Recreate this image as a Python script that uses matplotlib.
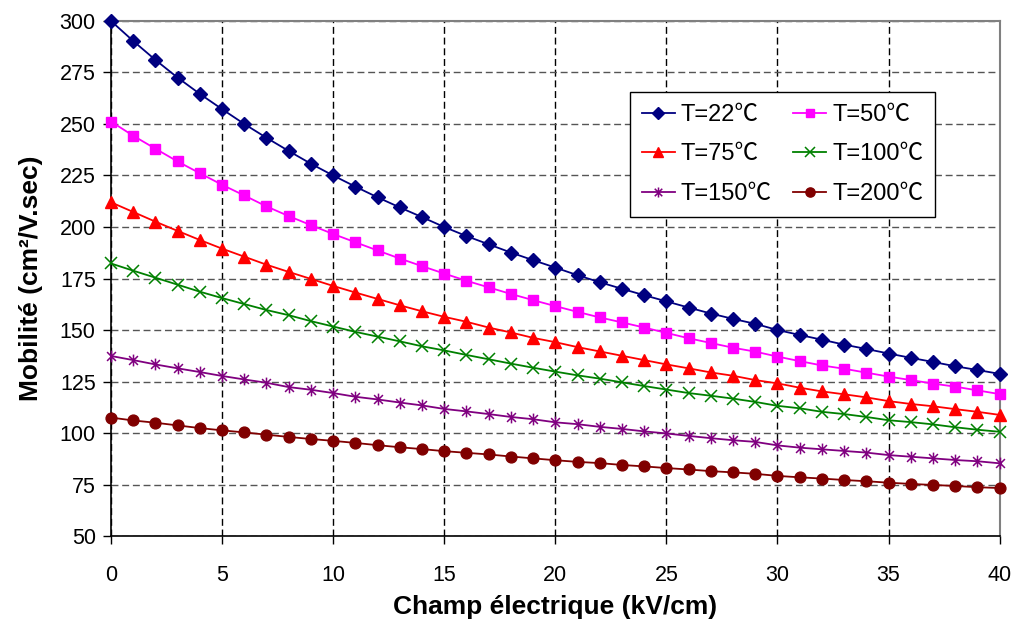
import numpy as np
import matplotlib
matplotlib.use("Agg")
import matplotlib.pyplot as plt
from matplotlib.path import Path

plt.rcParams['font.family'] = ['Liberation Sans', 'DejaVu Sans']

field = list(range(0, 41))

t22 = [300.0, 290.3, 281.1, 272.5, 264.6, 257.2, 250.0, 243.3, 236.9, 230.7,
       225.0, 219.6, 214.4, 209.5, 204.8, 200.0, 195.6, 191.6, 187.6, 183.9,
       180.3, 176.6, 173.2, 170.0, 166.9, 163.9, 160.9, 158.0, 155.4, 153.0,
       150.0, 147.6, 145.3, 142.9, 140.8, 138.6, 136.5, 134.5, 132.4, 130.6, 128.7]
t50 = [251.2, 244.3, 238.0, 231.8, 226.1, 220.5, 215.3, 210.0, 205.3, 200.9,
       196.6, 192.6, 188.6, 184.7, 181.0, 177.4, 173.9, 170.7, 167.5, 164.5,
       161.6, 158.8, 156.1, 153.7, 151.2, 148.6, 146.0, 143.7, 141.4, 139.5,
       137.1, 134.9, 132.8, 131.2, 129.3, 127.4, 125.7, 124.0, 122.5, 120.7, 118.9]
t75 = [212.0, 207.3, 202.6, 198.1, 193.7, 189.5, 185.6, 181.7, 178.2, 174.8,
       171.4, 168.2, 165.1, 162.0, 159.1, 156.4, 154.0, 151.2, 148.8, 146.2,
       144.1, 141.7, 139.6, 137.5, 135.4, 133.3, 131.4, 129.4, 127.8, 125.7,
       124.1, 122.0, 120.2, 118.8, 117.3, 115.5, 114.1, 113.0, 111.6, 110.3, 108.8]
t100 = [182.3, 178.8, 175.4, 172.0, 168.6, 165.5, 162.6, 159.7, 157.2, 154.3,
        151.7, 149.1, 146.8, 144.5, 142.1, 140.1, 137.9, 135.8, 133.7, 131.7,
        129.8, 128.0, 126.4, 124.6, 122.8, 121.1, 119.4, 118.1, 116.7, 115.1,
        113.2, 112.0, 110.3, 109.2, 107.8, 106.2, 105.3, 104.2, 102.8, 101.6, 100.6]
t150 = [137.4, 135.4, 133.3, 131.4, 129.6, 127.7, 126.0, 124.4, 122.3, 121.0,
        119.4, 117.6, 116.3, 114.8, 113.4, 111.7, 110.5, 109.2, 107.8, 106.7,
        105.2, 104.3, 103.0, 102.0, 100.8, 99.8, 98.6, 97.5, 96.5, 95.7,
        94.0, 92.9, 92.1, 91.3, 90.5, 89.3, 88.5, 87.7, 86.9, 86.3, 85.3]
t200 = [107.5, 106.1, 105.0, 103.7, 102.4, 101.3, 100.3, 99.2, 98.1, 97.1,
        96.2, 95.2, 94.1, 93.1, 92.2, 91.2, 90.4, 89.6, 88.6, 87.7,
        86.8, 86.0, 85.4, 84.5, 83.8, 83.0, 82.3, 81.5, 80.9, 80.2,
        79.2, 78.5, 77.9, 77.2, 76.6, 75.9, 75.3, 74.8, 74.3, 73.7, 73.3]

labels = ["T=22℃", "T=50℃", "T=75℃", "T=100℃", "T=150℃", "T=200℃"]
x_ticks = [0, 5, 10, 15, 20, 25, 30, 35, 40]
y_ticks = [50, 75, 100, 125, 150, 175, 200, 225, 250, 275, 300]

# asterisk marker (x + vertical bar)
star_path = Path(
    [(0, -1), (0, 1), (-0.75, -0.75), (0.75, 0.75), (-0.75, 0.75), (0.75, -0.75)],
    [Path.MOVETO, Path.LINETO, Path.MOVETO, Path.LINETO, Path.MOVETO, Path.LINETO])

fig = plt.figure(figsize=(10.18, 6.26), dpi=100)
ax = fig.add_axes([0.109, 0.1437, 0.873, 0.8228])

styles = [
    dict(color='#000080', marker='D', ms=7.3, mfc='#000080', mec='#000080'),
    dict(color='#FF00FF', marker='s', ms=6.8, mfc='#FF00FF', mec='#FF00FF'),
    dict(color='#FF0000', marker='^', ms=8.3, mfc='#FF0000', mec='#FF0000'),
    dict(color='#008000', marker='x', ms=8.3, mew=1.1, mec='#008000'),
    dict(color='#800080', marker=star_path, ms=8.5, mew=1.1, mec='#800080'),
    dict(color='#800000', marker='o', ms=7.8, mfc='#800000', mec='#800000'),
]
series = [t22, t50, t75, t100, t150, t200]
handles = []
for ys, lab, st in zip(series, labels, styles):
    ln, = ax.plot(field, ys, lw=1.3, label=lab, zorder=3, clip_on=False, **st)
    handles.append(ln)

ax.set_xlim(0, 40)
ax.set_ylim(50, 300)
ax.set_xticks(x_ticks)
ax.set_yticks(y_ticks)
ax.tick_params(axis='both', labelsize=15.5, direction='out', length=6, width=1, colors='black')
ax.tick_params(axis='x', pad=15)
ax.tick_params(axis='y', pad=5)

ax.yaxis.grid(True, color='#555555', linestyle=(0, (5, 2.7)), lw=1.0, zorder=1)
ax.xaxis.grid(True, color='black', linestyle=(0, (5, 2.7)), lw=1.0, zorder=1)
ax.set_axisbelow(True)

for s in ['left', 'bottom']:
    ax.spines[s].set_color('black')
    ax.spines[s].set_linewidth(1.2)
for s in ['top', 'right']:
    ax.spines[s].set_color('#808080')
    ax.spines[s].set_linewidth(1.5)

ax.set_xlabel("Champ électrique (kV/cm)", fontsize=19, fontweight='bold', labelpad=6)
ax.set_ylabel("Mobilité (cm²/V.sec)", fontsize=19, fontweight='bold', labelpad=12)

# row-wise legend order: (22, 50), (75, 100), (150, 200)
order = [0, 2, 4, 1, 3, 5]
leg = ax.legend([handles[i] for i in order], [labels[i] for i in order],
                ncol=2, loc='upper left', bbox_to_anchor=(0.584, 0.862),
                prop={'family': ['Liberation Sans', 'Noto Sans CJK JP'], 'size': 17},
                frameon=True, fancybox=False, framealpha=1,
                edgecolor='black', handlelength=1.4, handletextpad=0.25,
                columnspacing=0.9, labelspacing=0.74, borderpad=0.5,
                borderaxespad=0)
leg.get_frame().set_linewidth(1.0)
for h in leg.legend_handles:
    h.set_markersize(h.get_markersize() * 0.85)

fig.savefig("out.png", dpi=100)
